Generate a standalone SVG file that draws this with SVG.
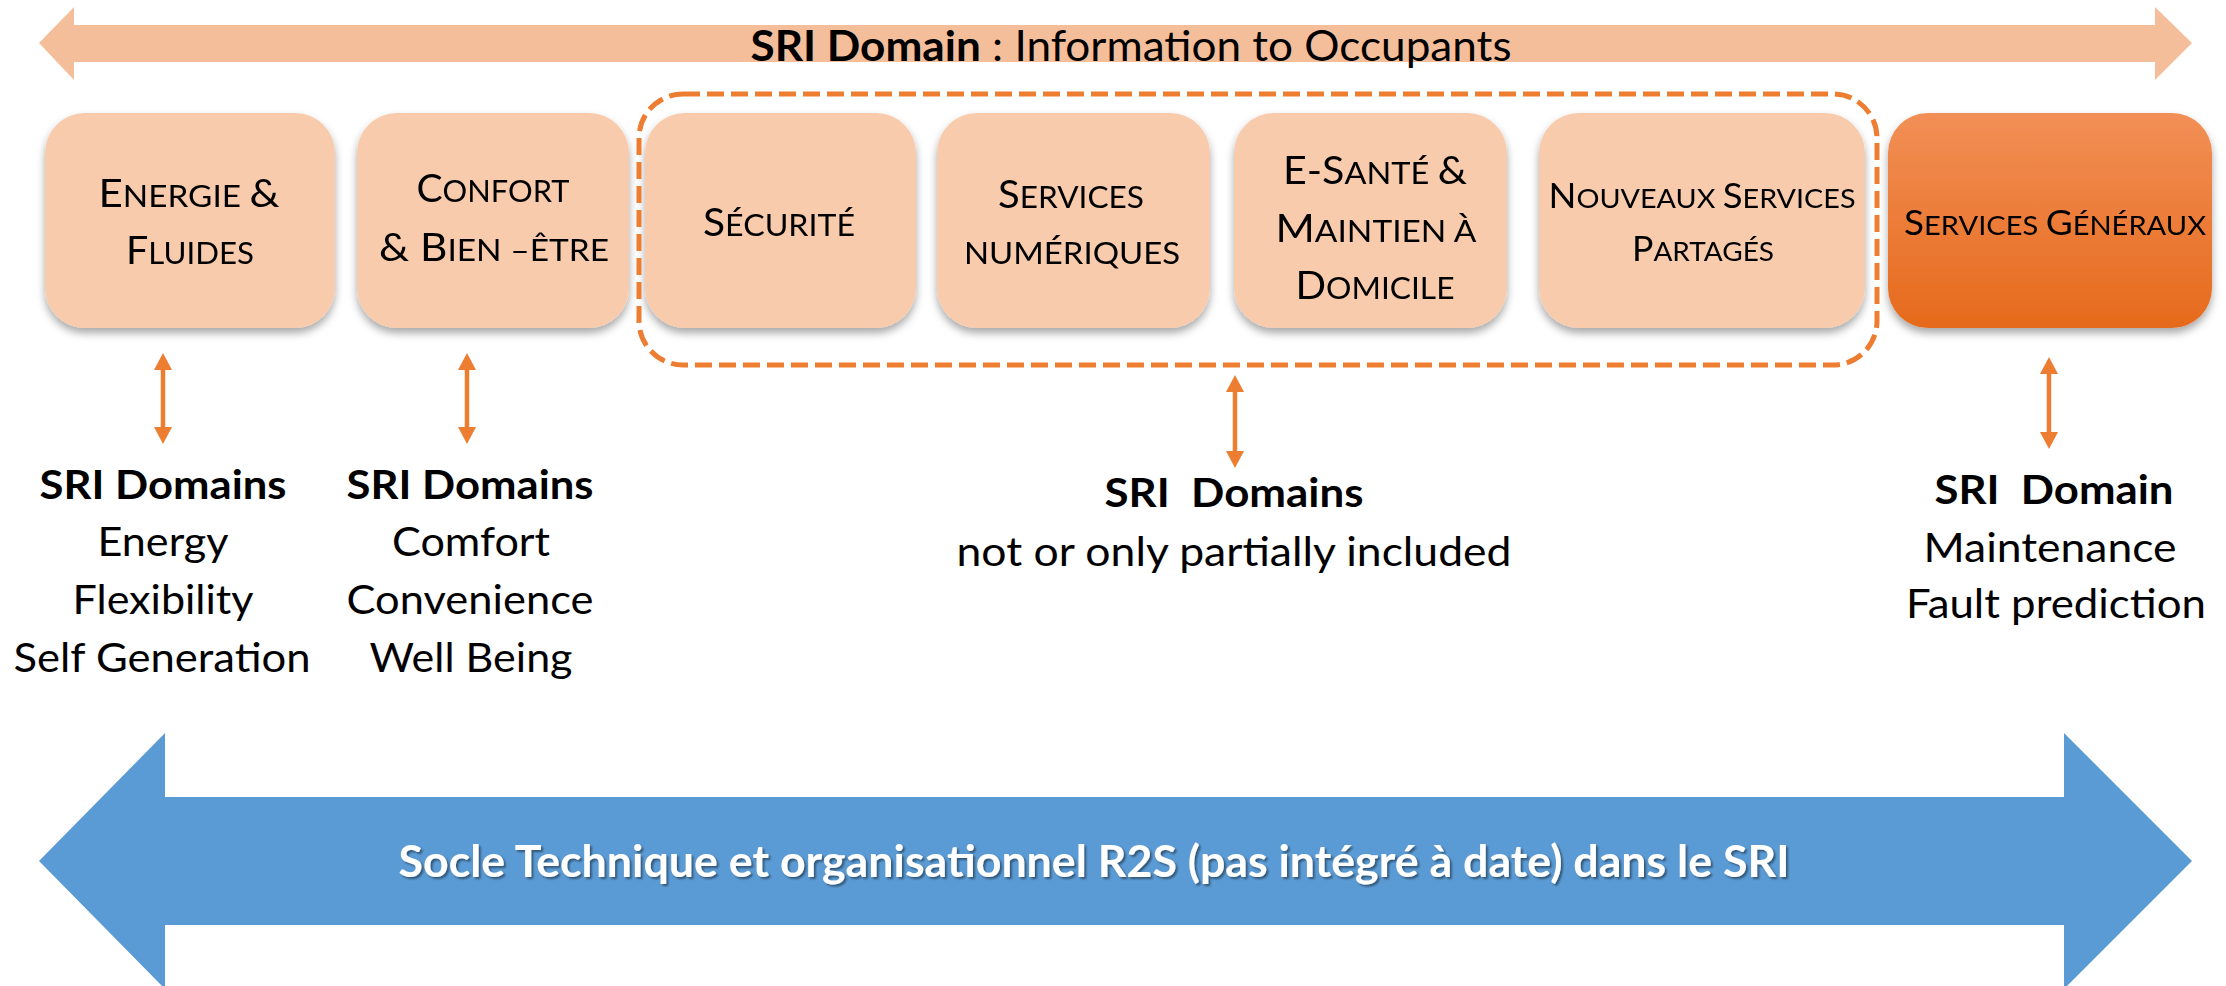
<svg xmlns="http://www.w3.org/2000/svg" width="2226" height="986" viewBox="0 0 2226 986">
  <style>
    text { font-family: "Lato", "Liberation Sans", sans-serif; fill: #000; }
    .box { fill: #F8CBAD; }
    .hot { fill: url(#hotFill); }
    .big { font-size: 38px; }
    .sm { font-size: 30px; }
    .big2 { font-size: 35px; }
    .sm2 { font-size: 27.5px; }
    .head { font-size: 41px; font-weight: bold; }
    .line { font-size: 41px; }
    .link { stroke: #ED7D31; stroke-width: 4.5; marker-start: url(#tip); marker-end: url(#tip); }
  </style>
  <defs>
    <linearGradient id="hotFill" x1="0" y1="0" x2="0" y2="1">
      <stop offset="0" stop-color="#F28F56"/>
      <stop offset="1" stop-color="#E66A1C"/>
    </linearGradient>
    <filter id="lift" x="-10%" y="-10%" width="120%" height="130%">
      <feDropShadow dx="0" dy="5" stdDeviation="4" flood-color="#000" flood-opacity="0.35"/>
    </filter>
    <filter id="glow" x="-5%" y="-30%" width="110%" height="160%">
      <feDropShadow dx="2" dy="2" stdDeviation="1.2" flood-color="#000" flood-opacity="0.45"/>
    </filter>
    <marker id="tip" viewBox="0 0 17 18" markerUnits="userSpaceOnUse" markerWidth="17" markerHeight="18" refX="7" refY="9" orient="auto-start-reverse">
      <path d="M0,0 L17,9 L0,18 z" fill="#ED7D31"/>
    </marker>
  </defs>

  <!-- top band: information to occupants -->
  <g id="band-top">
    <polygon points="39,43 74,7 74,25 2155,25 2155,7 2192,43 2155,80 2155,62 74,62 74,80" fill="#F5BE9A"/>
    <text x="1131" y="61" text-anchor="middle" font-size="42" textLength="761" lengthAdjust="spacingAndGlyphs"><tspan font-weight="bold">SRI Domain</tspan> : Information to Occupants</text>
  </g>

  <!-- service boxes -->
  <g id="energie" filter="url(#lift)">
    <rect class="box" x="45" y="113" width="290" height="215" rx="40"/>
    <text x="189" y="207" text-anchor="middle" textLength="181" lengthAdjust="spacingAndGlyphs"><tspan class="big">E</tspan><tspan class="sm">NERGIE </tspan><tspan class="big">&amp;</tspan></text>
    <text x="190" y="264" text-anchor="middle" textLength="128" lengthAdjust="spacingAndGlyphs"><tspan class="big">F</tspan><tspan class="sm">LUIDES</tspan></text>
  </g>
  <g id="confort" filter="url(#lift)">
    <rect class="box" x="357" y="113" width="272" height="215" rx="40"/>
    <text x="493" y="202" text-anchor="middle" textLength="153" lengthAdjust="spacingAndGlyphs"><tspan class="big">C</tspan><tspan class="sm">ONFORT</tspan></text>
    <text x="494" y="261" text-anchor="middle" textLength="230" lengthAdjust="spacingAndGlyphs"><tspan class="big">&amp; B</tspan><tspan class="sm">IEN –ÊTRE</tspan></text>
  </g>
  <g id="securite" filter="url(#lift)">
    <rect class="box" x="645" y="113" width="271" height="215" rx="40"/>
    <text x="779" y="236" text-anchor="middle" textLength="152" lengthAdjust="spacingAndGlyphs"><tspan class="big">S</tspan><tspan class="sm">ÉCURITÉ</tspan></text>
  </g>
  <g id="numeriques" filter="url(#lift)">
    <rect class="box" x="937" y="113" width="273" height="215" rx="40"/>
    <text x="1071" y="208" text-anchor="middle" textLength="146" lengthAdjust="spacingAndGlyphs"><tspan class="big">S</tspan><tspan class="sm">ERVICES</tspan></text>
    <text x="1072" y="264" text-anchor="middle" textLength="216" lengthAdjust="spacingAndGlyphs"><tspan class="sm">NUMÉRIQUES</tspan></text>
  </g>
  <g id="esante" filter="url(#lift)">
    <rect class="box" x="1234" y="113" width="273" height="215" rx="40"/>
    <text x="1375" y="184" text-anchor="middle" textLength="184" lengthAdjust="spacingAndGlyphs"><tspan class="big">E-S</tspan><tspan class="sm">ANTÉ </tspan><tspan class="big">&amp;</tspan></text>
    <text x="1376" y="242" text-anchor="middle" textLength="201" lengthAdjust="spacingAndGlyphs"><tspan class="big">M</tspan><tspan class="sm">AINTIEN À</tspan></text>
    <text x="1375" y="299" text-anchor="middle" textLength="159" lengthAdjust="spacingAndGlyphs"><tspan class="big">D</tspan><tspan class="sm">OMICILE</tspan></text>
  </g>
  <g id="nouveaux" filter="url(#lift)">
    <rect class="box" x="1539" y="113" width="326" height="215" rx="40"/>
    <text x="1702" y="208" text-anchor="middle" textLength="307" lengthAdjust="spacingAndGlyphs"><tspan class="big2">N</tspan><tspan class="sm2">OUVEAUX </tspan><tspan class="big2">S</tspan><tspan class="sm2">ERVICES</tspan></text>
    <text x="1703" y="261" text-anchor="middle" textLength="142" lengthAdjust="spacingAndGlyphs"><tspan class="big2">P</tspan><tspan class="sm2">ARTAGÉS</tspan></text>
  </g>
  <g id="generaux" filter="url(#lift)">
    <rect class="hot" x="1888" y="113" width="324" height="215" rx="40"/>
    <text x="2055" y="235" text-anchor="middle" textLength="302" lengthAdjust="spacingAndGlyphs"><tspan class="big2">S</tspan><tspan class="sm2">ERVICES </tspan><tspan class="big2">G</tspan><tspan class="sm2">ÉNÉRAUX</tspan></text>
  </g>

  <!-- group of services outside the SRI scope -->
  <g id="outside-scope">
    <rect x="639" y="94" width="1238" height="271" rx="44" fill="none" stroke="#ED7D31" stroke-width="5" stroke-dasharray="17 7"/>
  </g>

  <!-- links between boxes and domain labels -->
  <g id="connectors">
    <line class="link" x1="163" y1="363" x2="163" y2="434"/>
    <line class="link" x1="467" y1="363" x2="467" y2="434"/>
    <line class="link" x1="1235" y1="385" x2="1235" y2="458"/>
    <line class="link" x1="2049" y1="367" x2="2049" y2="439"/>
  </g>

  <!-- domain labels -->
  <g id="label-energy">
    <text x="163" y="499" text-anchor="middle" class="head" textLength="247" lengthAdjust="spacingAndGlyphs">SRI Domains</text>
    <text x="163" y="556" text-anchor="middle" class="line" textLength="131" lengthAdjust="spacingAndGlyphs">Energy</text>
    <text x="163" y="614" text-anchor="middle" class="line" textLength="181" lengthAdjust="spacingAndGlyphs">Flexibility</text>
    <text x="162" y="672" text-anchor="middle" class="line" textLength="297" lengthAdjust="spacingAndGlyphs">Self Generation</text>
  </g>
  <g id="label-comfort">
    <text x="470" y="499" text-anchor="middle" class="head" textLength="247" lengthAdjust="spacingAndGlyphs">SRI Domains</text>
    <text x="471" y="556" text-anchor="middle" class="line" textLength="158" lengthAdjust="spacingAndGlyphs">Comfort</text>
    <text x="470" y="614" text-anchor="middle" class="line" textLength="247" lengthAdjust="spacingAndGlyphs">Convenience</text>
    <text x="471" y="672" text-anchor="middle" class="line" textLength="203" lengthAdjust="spacingAndGlyphs">Well Being</text>
  </g>
  <g id="label-partial">
    <text x="1234" y="507" text-anchor="middle" class="head" xml:space="preserve" textLength="259" lengthAdjust="spacingAndGlyphs">SRI  Domains</text>
    <text x="1234" y="566" text-anchor="middle" class="line" textLength="555" lengthAdjust="spacingAndGlyphs">not or only partially included</text>
  </g>
  <g id="label-maintenance">
    <text x="2054" y="504" text-anchor="middle" class="head" xml:space="preserve" textLength="239" lengthAdjust="spacingAndGlyphs">SRI  Domain</text>
    <text x="2050" y="562" text-anchor="middle" class="line" textLength="253" lengthAdjust="spacingAndGlyphs">Maintenance</text>
    <text x="2056" y="618" text-anchor="middle" class="line" textLength="300" lengthAdjust="spacingAndGlyphs">Fault prediction</text>
  </g>

  <!-- bottom band: technical and organisational base -->
  <g id="band-bottom">
    <polygon points="39,861 165,733 165,797 2064,797 2064,733 2192,861 2064,989 2064,925 165,925 165,989" fill="#5B9BD5"/>
    <text x="1094" y="877" text-anchor="middle" font-size="44" font-weight="bold" filter="url(#glow)" style="fill:#fff" textLength="1391" lengthAdjust="spacingAndGlyphs">Socle Technique et organisationnel R2S (pas intégré à date) dans le SRI</text>
  </g>
</svg>
